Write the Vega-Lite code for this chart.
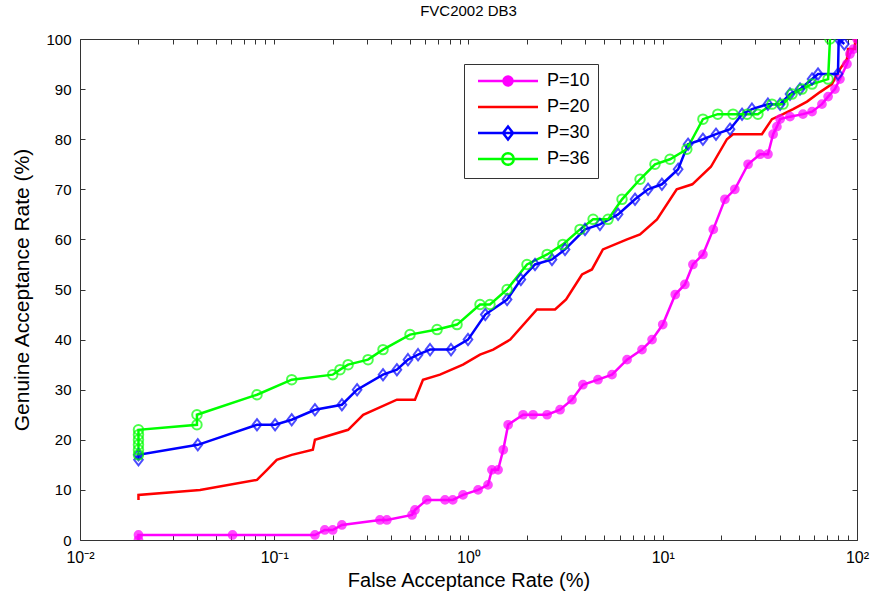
{
  "$schema": "https://vega.github.io/schema/vega-lite/v6.json",
  "width": 777,
  "height": 501,
  "autosize": {"type": "none"},
  "padding": {"left": 80, "top": 39, "right": 22, "bottom": 61},
  "background": "white",
  "config": {
    "view": {"stroke": null},
    "font": "Liberation Sans",
    "axis": {"grid": false, "domainColor": "#333", "tickColor": "#333", "labelColor": "#000", "titleColor": "#000", "labelFont": "Liberation Sans", "titleFont": "Liberation Sans", "titleFontWeight": "normal", "labelFontSize": 15, "titleFontSize": 20, "tickSize": -5, "domainWidth": 1, "tickWidth": 1, "labelFlush": false}
  },
  "title": {"text": "FVC2002 DB3", "fontSize": 15, "fontWeight": "normal", "font": "Liberation Sans", "color": "#000", "offset": 13},
  "data": {"values": [
    {"s":"P=10","i":1,"x":0.02,"y":0},{"s":"P=10","i":2,"x":0.02,"y":1},{"s":"P=10","i":3,"x":0.061,"y":1},{"s":"P=10","i":4,"x":0.162,"y":1},{"s":"P=10","i":5,"x":0.182,"y":2},{"s":"P=10","i":6,"x":0.2,"y":2},{"s":"P=10","i":7,"x":0.223,"y":3},{"s":"P=10","i":8,"x":0.35,"y":4},{"s":"P=10","i":9,"x":0.38,"y":4},{"s":"P=10","i":10,"x":0.512,"y":5},{"s":"P=10","i":11,"x":0.53,"y":6},{"s":"P=10","i":12,"x":0.61,"y":8},{"s":"P=10","i":13,"x":0.757,"y":8},{"s":"P=10","i":14,"x":0.83,"y":8},{"s":"P=10","i":15,"x":0.937,"y":9},{"s":"P=10","i":16,"x":1.12,"y":10},{"s":"P=10","i":17,"x":1.26,"y":11},{"s":"P=10","i":18,"x":1.32,"y":14},{"s":"P=10","i":19,"x":1.42,"y":14},{"s":"P=10","i":20,"x":1.51,"y":18},{"s":"P=10","i":21,"x":1.6,"y":23},{"s":"P=10","i":22,"x":1.91,"y":25},{"s":"P=10","i":23,"x":2.15,"y":25},{"s":"P=10","i":24,"x":2.54,"y":25},{"s":"P=10","i":25,"x":2.96,"y":26},{"s":"P=10","i":26,"x":3.41,"y":28},{"s":"P=10","i":27,"x":3.88,"y":31},{"s":"P=10","i":28,"x":4.64,"y":32},{"s":"P=10","i":29,"x":5.48,"y":33},{"s":"P=10","i":30,"x":6.55,"y":36},{"s":"P=10","i":31,"x":7.82,"y":38},{"s":"P=10","i":32,"x":8.81,"y":40},{"s":"P=10","i":33,"x":10.0,"y":43},{"s":"P=10","i":34,"x":11.6,"y":49},{"s":"P=10","i":35,"x":13.0,"y":51},{"s":"P=10","i":36,"x":14.3,"y":55},{"s":"P=10","i":37,"x":16.1,"y":57},{"s":"P=10","i":38,"x":18.2,"y":62},{"s":"P=10","i":39,"x":20.9,"y":68},{"s":"P=10","i":40,"x":23.5,"y":70},{"s":"P=10","i":41,"x":27.5,"y":75},{"s":"P=10","i":42,"x":31.7,"y":77},{"s":"P=10","i":43,"x":34.8,"y":77},{"s":"P=10","i":44,"x":37.0,"y":81},{"s":"P=10","i":45,"x":38.7,"y":82.5},{"s":"P=10","i":46,"x":40.2,"y":84},{"s":"P=10","i":47,"x":45.2,"y":84.5},{"s":"P=10","i":48,"x":52.7,"y":85},{"s":"P=10","i":49,"x":58.7,"y":85.5},{"s":"P=10","i":50,"x":66,"y":87},{"s":"P=10","i":51,"x":71,"y":88.5},{"s":"P=10","i":52,"x":77,"y":90},{"s":"P=10","i":53,"x":81.7,"y":92},{"s":"P=10","i":54,"x":88.8,"y":95},{"s":"P=10","i":55,"x":92,"y":97},{"s":"P=10","i":56,"x":96,"y":98},{"s":"P=10","i":57,"x":100,"y":100},
    {"s":"P=20","i":1,"x":0.02,"y":8},{"s":"P=20","i":2,"x":0.02,"y":9},{"s":"P=20","i":3,"x":0.0415,"y":10},{"s":"P=20","i":4,"x":0.0815,"y":12},{"s":"P=20","i":5,"x":0.0918,"y":14},{"s":"P=20","i":6,"x":0.103,"y":16},{"s":"P=20","i":7,"x":0.123,"y":17},{"s":"P=20","i":8,"x":0.158,"y":18},{"s":"P=20","i":9,"x":0.162,"y":20},{"s":"P=20","i":10,"x":0.24,"y":22},{"s":"P=20","i":11,"x":0.287,"y":25},{"s":"P=20","i":12,"x":0.428,"y":28},{"s":"P=20","i":13,"x":0.53,"y":28},{"s":"P=20","i":14,"x":0.583,"y":32},{"s":"P=20","i":15,"x":0.713,"y":33},{"s":"P=20","i":16,"x":0.937,"y":35},{"s":"P=20","i":17,"x":1.146,"y":37},{"s":"P=20","i":18,"x":1.34,"y":38},{"s":"P=20","i":19,"x":1.64,"y":40},{"s":"P=20","i":20,"x":2.25,"y":46},{"s":"P=20","i":21,"x":2.79,"y":46},{"s":"P=20","i":22,"x":3.18,"y":48},{"s":"P=20","i":23,"x":3.84,"y":53},{"s":"P=20","i":24,"x":4.32,"y":54},{"s":"P=20","i":25,"x":4.92,"y":58},{"s":"P=20","i":26,"x":6.55,"y":60},{"s":"P=20","i":27,"x":7.64,"y":61},{"s":"P=20","i":28,"x":9.34,"y":64},{"s":"P=20","i":29,"x":11.8,"y":70},{"s":"P=20","i":30,"x":14.2,"y":71},{"s":"P=20","i":31,"x":17.7,"y":74.5},{"s":"P=20","i":32,"x":21.4,"y":80},{"s":"P=20","i":33,"x":23,"y":81},{"s":"P=20","i":34,"x":32.4,"y":81},{"s":"P=20","i":35,"x":36.5,"y":84},{"s":"P=20","i":36,"x":41.6,"y":85},{"s":"P=20","i":37,"x":46.9,"y":86},{"s":"P=20","i":38,"x":55.3,"y":87.5},{"s":"P=20","i":39,"x":64.5,"y":89.4},{"s":"P=20","i":40,"x":74.3,"y":91},{"s":"P=20","i":41,"x":81.7,"y":94},{"s":"P=20","i":42,"x":88.8,"y":96},{"s":"P=20","i":43,"x":89.9,"y":98},{"s":"P=20","i":44,"x":97.7,"y":98},{"s":"P=20","i":45,"x":97.7,"y":100},
    {"s":"P=30","i":1,"x":0.02,"y":16},{"s":"P=30","i":2,"x":0.02,"y":17},{"s":"P=30","i":3,"x":0.0404,"y":19},{"s":"P=30","i":4,"x":0.0815,"y":23},{"s":"P=30","i":5,"x":0.101,"y":23},{"s":"P=30","i":6,"x":0.123,"y":24},{"s":"P=30","i":7,"x":0.162,"y":26},{"s":"P=30","i":8,"x":0.223,"y":27},{"s":"P=30","i":9,"x":0.267,"y":30},{"s":"P=30","i":10,"x":0.363,"y":33},{"s":"P=30","i":11,"x":0.428,"y":34},{"s":"P=30","i":12,"x":0.488,"y":36},{"s":"P=30","i":13,"x":0.55,"y":37},{"s":"P=30","i":14,"x":0.634,"y":38},{"s":"P=30","i":15,"x":0.813,"y":38},{"s":"P=30","i":16,"x":0.994,"y":40},{"s":"P=30","i":17,"x":1.22,"y":45},{"s":"P=30","i":18,"x":1.58,"y":48},{"s":"P=30","i":19,"x":1.86,"y":52},{"s":"P=30","i":20,"x":2.2,"y":55},{"s":"P=30","i":21,"x":2.69,"y":56},{"s":"P=30","i":22,"x":3.14,"y":58},{"s":"P=30","i":23,"x":3.98,"y":62},{"s":"P=30","i":24,"x":4.75,"y":63},{"s":"P=30","i":25,"x":5.89,"y":65},{"s":"P=30","i":26,"x":7.2,"y":68},{"s":"P=30","i":27,"x":8.4,"y":70},{"s":"P=30","i":28,"x":9.9,"y":71},{"s":"P=30","i":29,"x":12.0,"y":74},{"s":"P=30","i":30,"x":13.5,"y":79},{"s":"P=30","i":31,"x":16.1,"y":80},{"s":"P=30","i":32,"x":18.8,"y":81},{"s":"P=30","i":33,"x":22.2,"y":82},{"s":"P=30","i":34,"x":25.6,"y":85},{"s":"P=30","i":35,"x":28.8,"y":86},{"s":"P=30","i":36,"x":34.8,"y":87},{"s":"P=30","i":37,"x":40.2,"y":87},{"s":"P=30","i":38,"x":45.2,"y":89},{"s":"P=30","i":39,"x":50.9,"y":90},{"s":"P=30","i":40,"x":58.7,"y":92},{"s":"P=30","i":41,"x":63,"y":93},{"s":"P=30","i":42,"x":79.8,"y":93},{"s":"P=30","i":43,"x":80.5,"y":100},{"s":"P=30","i":44,"x":86,"y":99},
    {"s":"P=36","i":1,"x":0.02,"y":17},{"s":"P=36","i":2,"x":0.02,"y":18},{"s":"P=36","i":3,"x":0.02,"y":19},{"s":"P=36","i":4,"x":0.02,"y":20},{"s":"P=36","i":5,"x":0.02,"y":21},{"s":"P=36","i":6,"x":0.02,"y":22},{"s":"P=36","i":7,"x":0.04,"y":23},{"s":"P=36","i":8,"x":0.04,"y":25},{"s":"P=36","i":9,"x":0.0815,"y":29},{"s":"P=36","i":10,"x":0.123,"y":32},{"s":"P=36","i":11,"x":0.2,"y":33},{"s":"P=36","i":12,"x":0.218,"y":34},{"s":"P=36","i":13,"x":0.24,"y":35},{"s":"P=36","i":14,"x":0.304,"y":36},{"s":"P=36","i":15,"x":0.363,"y":38},{"s":"P=36","i":16,"x":0.5,"y":41},{"s":"P=36","i":17,"x":0.689,"y":42},{"s":"P=36","i":18,"x":0.873,"y":43},{"s":"P=36","i":19,"x":1.146,"y":47},{"s":"P=36","i":20,"x":1.29,"y":47},{"s":"P=36","i":21,"x":1.58,"y":50},{"s":"P=36","i":22,"x":2.0,"y":55},{"s":"P=36","i":23,"x":2.54,"y":57},{"s":"P=36","i":24,"x":3.06,"y":59},{"s":"P=36","i":25,"x":3.75,"y":62},{"s":"P=36","i":26,"x":4.38,"y":64},{"s":"P=36","i":27,"x":5.23,"y":64},{"s":"P=36","i":28,"x":6.17,"y":68},{"s":"P=36","i":29,"x":7.64,"y":72},{"s":"P=36","i":30,"x":9.12,"y":75},{"s":"P=36","i":31,"x":10.9,"y":76},{"s":"P=36","i":32,"x":13.3,"y":78},{"s":"P=36","i":33,"x":16.1,"y":84},{"s":"P=36","i":34,"x":19.2,"y":85},{"s":"P=36","i":35,"x":23,"y":85},{"s":"P=36","i":36,"x":27.2,"y":85},{"s":"P=36","i":37,"x":30.9,"y":85},{"s":"P=36","i":38,"x":36.5,"y":87},{"s":"P=36","i":39,"x":41.6,"y":87},{"s":"P=36","i":40,"x":46.3,"y":89},{"s":"P=36","i":41,"x":52.1,"y":90},{"s":"P=36","i":42,"x":58.7,"y":91},{"s":"P=36","i":43,"x":71,"y":92},{"s":"P=36","i":44,"x":72.6,"y":100}
  ]},
  "layer": [
    {
      "mark": {"type": "line", "strokeWidth": 2.5, "clip": true},
      "encoding": {
        "x": {"field": "x", "type": "quantitative", "scale": {"type": "log", "domain": [0.01, 100], "nice": false},
          "axis": {"orient": "bottom", "title": "False Acceptance Rate (%)", "titlePadding": 5,
            "values": [0.01,0.02,0.03,0.04,0.05,0.06,0.07,0.08,0.09,0.1,0.2,0.3,0.4,0.5,0.6,0.7,0.8,0.9,1,2,3,4,5,6,7,8,9,10,20,30,40,50,60,70,80,90,100],
            "labelExpr": "datum.value == 0.01 ? '10⁻²' : datum.value == 0.1 ? '10⁻¹' : datum.value == 1 ? '10⁰' : datum.value == 10 ? '10¹' : datum.value == 100 ? '10²' : ''",
            "labelPadding": 14, "labelFontSize": 16}},
        "y": {"field": "y", "type": "quantitative", "scale": {"domain": [0, 100], "nice": false},
          "axis": {"orient": "left", "title": "Genuine Acceptance Rate (%)", "titleFontSize": 21, "values": [0,10,20,30,40,50,60,70,80,90,100], "labelPadding": 14, "titlePadding": 13}},
        "color": {"field": "s", "type": "nominal",
          "scale": {"domain": ["P=10","P=20","P=30","P=36"], "range": ["#ff00ff","#ff0000","#0000ff","#00ff00"]},
          "legend": {"orient": "none", "legendX": 384, "legendY": 25, "title": null, "direction": "vertical", "gridAlign": "all",
            "strokeColor": "#333", "fillColor": "white", "padding": 8, "symbolSize": 100, "symbolOffset": 27, "labelOffset": 30,
            "labelFontSize": 18, "labelFont": "Liberation Sans", "labelColor": "#000", "rowPadding": 2, "symbolStrokeWidth": 2.5, "symbolType": "M-6,0H6",
            "encode": {"symbols": {"update": {
              "shape": {"signal": "datum.value == 'P=10' ? 'M-6,0H6M0.9,0A0.9,0.9 0 1,1 -0.9,0A0.9,0.9 0 1,1 0.9,0Z' : datum.value == 'P=30' ? 'M-6,0H6M0,-1.3L1,0L0,1.3L-1,0Z' : datum.value == 'P=36' ? 'M-6,0H6M1.15,0A1.15,1.15 0 1,1 -1.15,0A1.15,1.15 0 1,1 1.15,0Z' : 'M-6,0H6'"},
              "fill": {"signal": "datum.value == 'P=10' ? '#ff00ff' : 'transparent'"}
            }}}}},
        "order": {"field": "i", "type": "quantitative"}
      }
    },
    {
      "transform": [{"filter": "datum.s != 'P=20'"}],
      "mark": {"type": "point", "strokeWidth": 2, "clip": true},
      "encoding": {
        "x": {"field": "x", "type": "quantitative", "scale": {"type": "log", "domain": [0.01, 100], "nice": false},
          "axis": {"orient": "top", "title": null, "labels": false,
            "values": [0.01,0.02,0.03,0.04,0.05,0.06,0.07,0.08,0.09,0.1,0.2,0.3,0.4,0.5,0.6,0.7,0.8,0.9,1,2,3,4,5,6,7,8,9,10,20,30,40,50,60,70,80,90,100]}},
        "y": {"field": "y", "type": "quantitative", "scale": {"domain": [0, 100], "nice": false},
          "axis": {"orient": "right", "title": null, "labels": false, "values": [0,10,20,30,40,50,60,70,80,90,100]}},
        "stroke": {"field": "s", "type": "nominal", "scale": {"domain": ["P=10","P=30","P=36"], "range": ["#ff00ff","#0000ff","#00ff00"]}, "legend": null},
        "fill": {"field": "s", "type": "nominal", "scale": {"domain": ["P=10","P=30","P=36"], "range": ["#ff00ff","transparent","transparent"]}, "legend": null},
        "shape": {"field": "s", "type": "nominal", "scale": {"domain": ["P=10","P=30","P=36"], "range": ["circle","M0,-1.3L1,0L0,1.3L-1,0Z","circle"]}, "legend": null},
        "size": {"field": "s", "type": "nominal", "scale": {"domain": ["P=10","P=30","P=36"], "range": [60, 90, 100]}, "legend": null}
      }
    }
  ],
  "resolve": {"axis": {"x": "independent", "y": "independent"}}
}
